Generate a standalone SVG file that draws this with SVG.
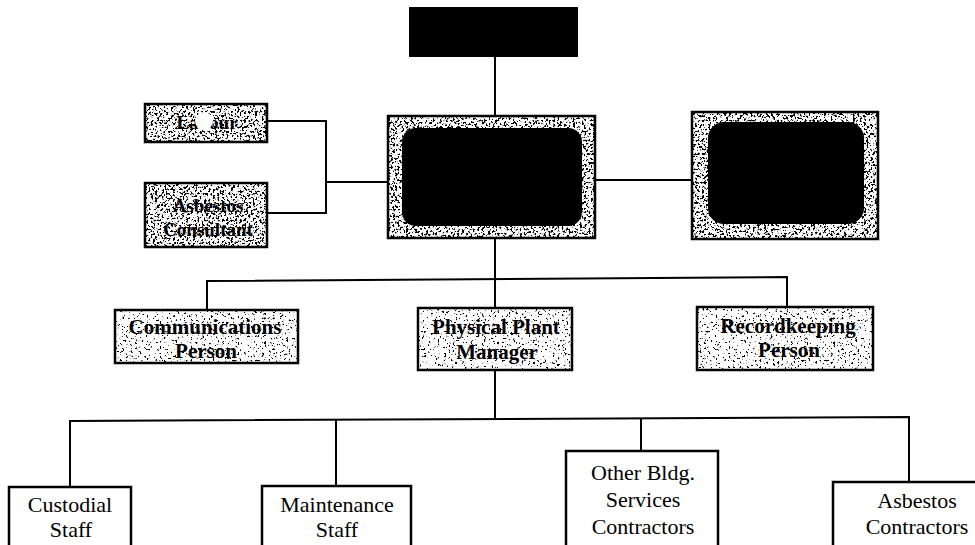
<svg xmlns="http://www.w3.org/2000/svg" width="975" height="545" viewBox="0 0 975 545">
<style>
.ln{stroke:#000;stroke-width:2;fill:none}
.bx{stroke:#000;stroke-width:2.5}
.sp{fill:#fff;filter:url(#speck)}
.spd{fill:#fff;filter:url(#speckd)}
.tb{font-family:"Liberation Serif",serif;font-weight:bold;font-size:21px;text-anchor:middle;fill:#000}
.tr{font-family:"Liberation Serif",serif;font-size:22px;text-anchor:middle;fill:#000}
.ts{font-family:"Liberation Serif",serif;font-weight:bold;font-size:19px;text-anchor:middle;fill:#000}
</style>
<defs>
<filter id="speck" x="0" y="0" width="100%" height="100%">
<feTurbulence type="fractalNoise" baseFrequency="0.45" numOctaves="2" seed="4" result="n"/>
<feColorMatrix in="n" type="matrix" values="0 0 0 0 0 0 0 0 0 0 0 0 0 0 0 14 0 0 0 -8.6" result="d"/>
<feComposite in="d" in2="SourceGraphic" operator="in" result="c"/>
<feMerge><feMergeNode in="SourceGraphic"/><feMergeNode in="c"/></feMerge>
</filter>
<filter id="speckd" x="0" y="0" width="100%" height="100%">
<feTurbulence type="fractalNoise" baseFrequency="0.45" numOctaves="2" seed="9" result="n"/>
<feColorMatrix in="n" type="matrix" values="0 0 0 0 0 0 0 0 0 0 0 0 0 0 0 14 0 0 0 -7.4" result="d"/>
<feComposite in="d" in2="SourceGraphic" operator="in" result="c"/>
<feMerge><feMergeNode in="SourceGraphic"/><feMergeNode in="c"/></feMerge>
</filter>
</defs>
<rect width="975" height="545" fill="#fff"/>
<g id="connectors">
<line class="ln" x1="495" y1="57" x2="495" y2="117"/>
<polyline class="ln" points="267,121 326,121 326,213 267,213"/>
<line class="ln" x1="326" y1="182" x2="388" y2="182"/>
<line class="ln" x1="595" y1="180" x2="692" y2="180"/>
<line class="ln" x1="495" y1="238" x2="495" y2="308"/>
<polyline class="ln" points="207,310 207,281 787,277 787,307"/>
<line class="ln" x1="495" y1="370" x2="495" y2="419"/>
<polyline class="ln" points="70,487 70,421 909,417 909,482"/>
<line class="ln" x1="336" y1="420" x2="336" y2="486"/>
<line class="ln" x1="641" y1="418" x2="641" y2="451"/>
</g>
<g id="top">
<rect x="409" y="7" width="169" height="50" fill="#000"/>
</g>
<g id="main">
<rect class="spd" x="388" y="116" width="207" height="122"/>
<rect x="402" y="128" width="180" height="98" rx="14" fill="#000"/>
<rect x="388" y="116" width="207" height="122" fill="none" class="bx"/>
</g>
<g id="right">
<rect class="spd" x="692" y="112" width="186" height="127"/>
<rect x="708" y="122" width="156" height="102" rx="16" fill="#000"/>
<rect x="692" y="112" width="186" height="127" fill="none" class="bx"/>
</g>
<g id="labor">
<rect class="spd" x="145" y="104" width="122" height="38"/>
<rect x="145" y="104" width="122" height="38" fill="none" class="bx"/>
<text class="ts" x="207" y="129">Labour</text>
<circle cx="204" cy="121" r="9" fill="#fff"/>
</g>
<g id="consultant">
<rect class="spd" x="145" y="183" width="122" height="64"/>
<rect x="145" y="183" width="122" height="64" fill="none" class="bx"/>
<text class="ts" x="208" y="212">Asbestos</text>
<text class="ts" x="208" y="236">Consultant</text>
</g>
<g id="communications">
<rect class="sp" x="115" y="310" width="183" height="53"/>
<rect x="115" y="310" width="183" height="53" fill="none" class="bx"/>
<text class="tb" x="205" y="334">Communications</text>
<text class="tb" x="206" y="358">Person</text>
</g>
<g id="plant">
<rect class="sp" x="418" y="308" width="154" height="62"/>
<rect x="418" y="308" width="154" height="62" fill="none" class="bx"/>
<text class="tb" x="496" y="334">Physical Plant</text>
<text class="tb" x="497" y="359">Manager</text>
</g>
<g id="recordkeeping">
<rect class="sp" x="697" y="307" width="176" height="63"/>
<rect x="697" y="307" width="176" height="63" fill="none" class="bx"/>
<text class="tb" x="788" y="333">Recordkeeping</text>
<text class="tb" x="789" y="357">Person</text>
</g>
<g id="custodial">
<rect x="9" y="487" width="122" height="80" fill="#fff" class="bx"/>
<text class="tr" x="70" y="512">Custodial</text>
<text class="tr" x="71" y="537">Staff</text>
</g>
<g id="maintenance">
<rect x="262" y="486" width="149" height="80" fill="#fff" class="bx"/>
<text class="tr" x="337" y="512">Maintenance</text>
<text class="tr" x="337" y="537">Staff</text>
</g>
<g id="otherbldg">
<rect x="566" y="451" width="152" height="110" fill="#fff" class="bx"/>
<text class="tr" x="643" y="480">Other Bldg.</text>
<text class="tr" x="643" y="507">Services</text>
<text class="tr" x="643" y="534">Contractors</text>
</g>
<g id="asbestos">
<rect x="833" y="482" width="150" height="80" fill="#fff" class="bx"/>
<text class="tr" x="917" y="508">Asbestos</text>
<text class="tr" x="917" y="534">Contractors</text>
</g>
</svg>
